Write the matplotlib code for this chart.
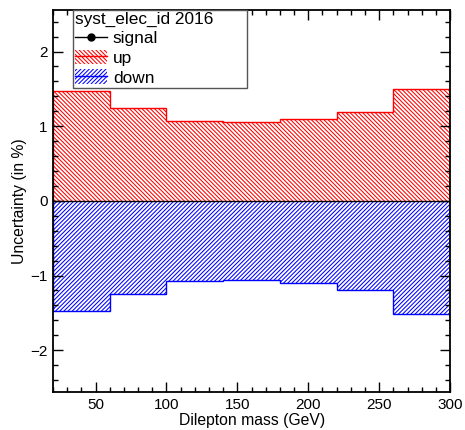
import matplotlib
matplotlib.use('Agg')
import matplotlib.pyplot as plt
import numpy as np
from matplotlib.patches import Patch
from matplotlib.lines import Line2D
from matplotlib.ticker import MultipleLocator

plt.rcParams['font.family'] = ['Liberation Sans', 'DejaVu Sans']
plt.rcParams['hatch.linewidth'] = 0.75

# Bin edges of dilepton mass (GeV) and uncertainties in %
edges = [20, 60, 100, 140, 180, 220, 260, 300]
up_vals = [1.476, 1.248, 1.07, 1.05, 1.10, 1.19, 1.50]
down_vals = [-1.48, -1.244, -1.078, -1.056, -1.105, -1.20, -1.51]
signal_vals = [0, 0, 0, 0, 0, 0, 0]

legend_title = 'syst_elec_id 2016'
labels = ['signal', 'up', 'down']

UP_HATCH = '\\' * 8
DOWN_HATCH = '/' * 8

fig = plt.figure(figsize=(4.65, 4.3), dpi=100)
ax = fig.add_axes([0.114, 0.0884, 0.854, 0.889])

# up / down histograms, hatched
ax.stairs(up_vals, edges, baseline=0, fill=True, facecolor='none',
          edgecolor='red', hatch=UP_HATCH, linewidth=0)
ax.stairs(up_vals, edges, baseline=0, color='red', linewidth=1.0)
ax.stairs(down_vals, edges, baseline=0, fill=True, facecolor='none',
          edgecolor='blue', hatch=DOWN_HATCH, linewidth=0)
ax.stairs(down_vals, edges, baseline=0, color='blue', linewidth=1.0)
ax.stairs(signal_vals, edges, baseline=None, color='black', linewidth=1.0)

ax.set_xlim(20, 300)
ax.set_ylim(-2.56, 2.56)

ax.xaxis.set_major_locator(MultipleLocator(50))
ax.xaxis.set_minor_locator(MultipleLocator(10))
ax.yaxis.set_major_locator(MultipleLocator(1))
ax.yaxis.set_minor_locator(MultipleLocator(0.2))
ax.tick_params(which='both', direction='in', top=True, right=True,
               labelsize=11, width=1.0)
ax.tick_params(which='major', length=7.5, pad=4)
ax.tick_params(which='minor', length=3.8)
for s in ax.spines.values():
    s.set_linewidth(1.3)

ax.set_xlabel('Dilepton mass (GeV)', fontsize=11.3, loc='center', labelpad=1)
ax.set_ylabel('Uncertainty (in %)', fontsize=11.3, labelpad=2.5)

# legend
h_sig = Line2D([], [], color='black', marker='o', markersize=5, linewidth=1)
h_up = (Patch(facecolor='none', edgecolor='red', hatch=UP_HATCH, linewidth=0),
        Line2D([], [], color='red', linewidth=1))
h_down = (Patch(facecolor='none', edgecolor='blue', hatch=DOWN_HATCH, linewidth=0),
          Line2D([], [], color='blue', linewidth=1))
leg = ax.legend([h_sig, h_up, h_down], labels, title=legend_title,
                loc='upper left', bbox_to_anchor=(0.05, 0.80, 0.439, 0.20),
                mode='expand', borderaxespad=0,
                fontsize=12.4, title_fontsize=12.4, alignment='left',
                fancybox=False, framealpha=1, edgecolor='#555555',
                handlelength=1.85, handletextpad=0.35, labelspacing=0.2,
                borderpad=0.12, handleheight=0.9)
leg.get_frame().set_linewidth(1.0)

fig.savefig('out.png', dpi=100)
